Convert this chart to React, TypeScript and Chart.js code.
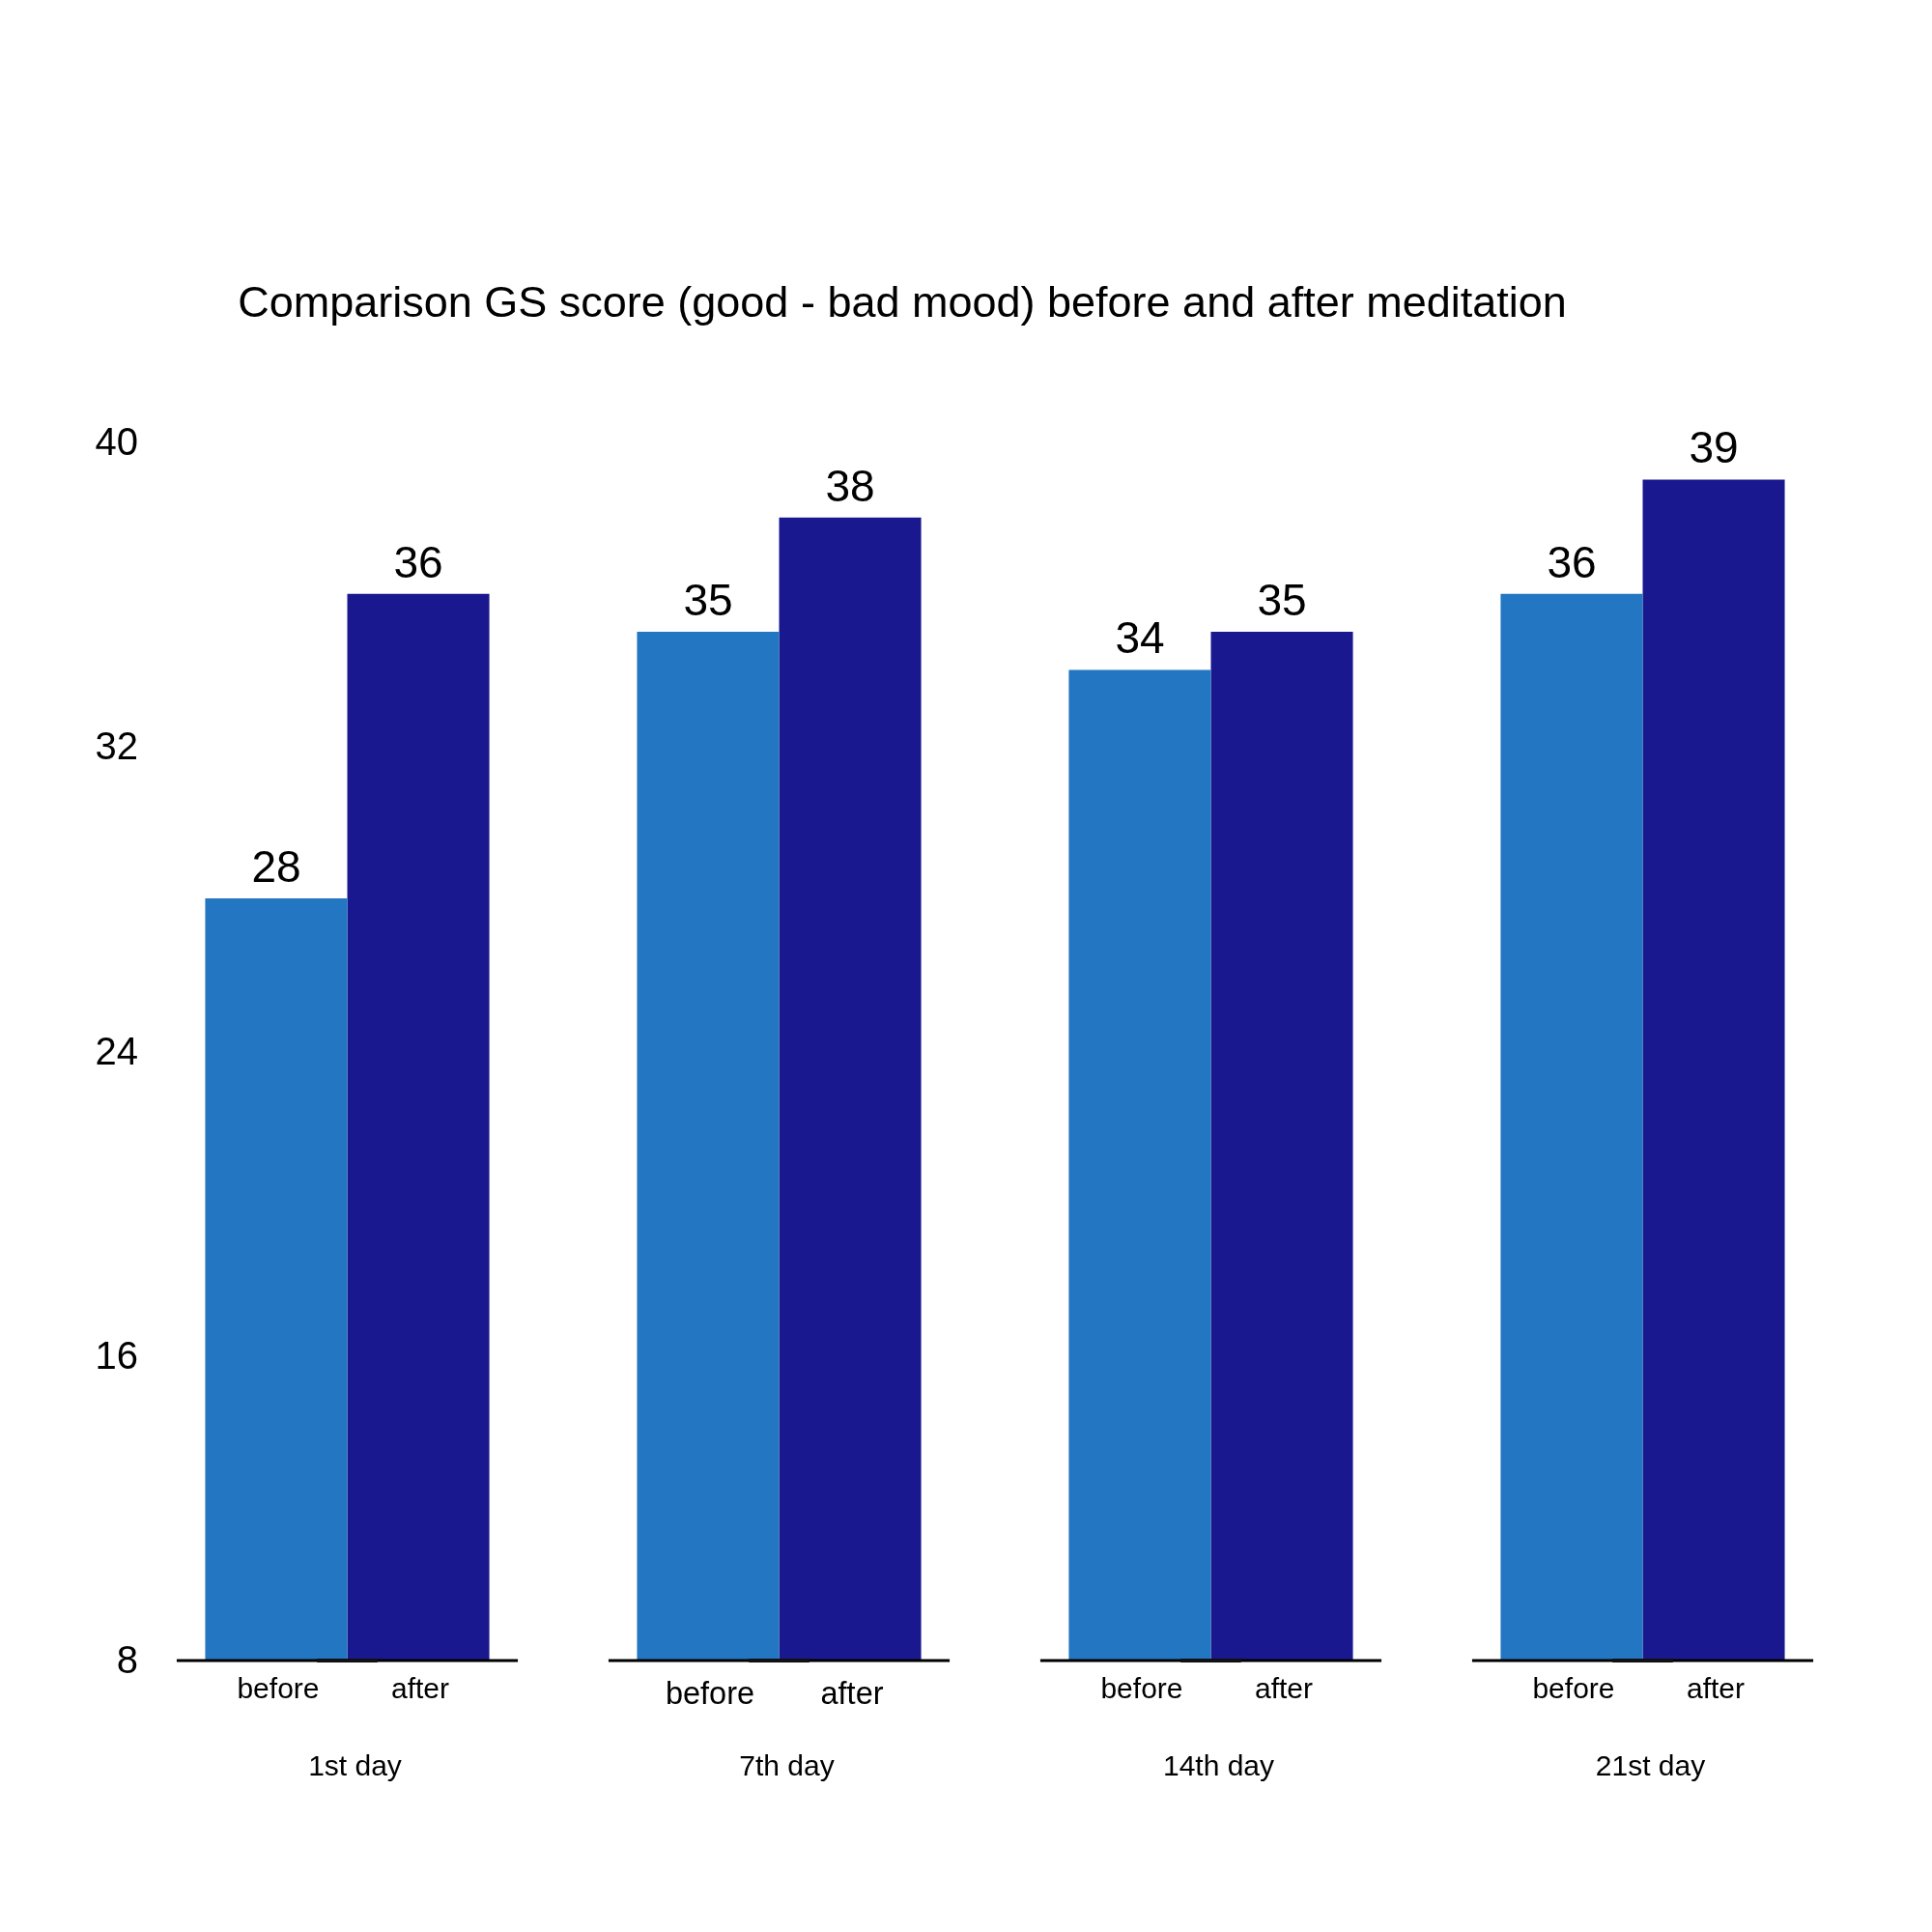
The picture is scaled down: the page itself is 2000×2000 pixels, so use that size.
import React, { useEffect, useRef } from "react";
import { Chart, registerables } from "chart.js";

Chart.register(...registerables);

const titleText = "Comparison GS score (good - bad mood) before and after meditation";
const days = ["1st day", "7th day", "14th day", "21st day"];
const subLabels = ["before", "after"];
const beforeValues = [28, 35, 34, 36];
const afterValues = [36, 38, 35, 39];
const yTicks = [8, 16, 24, 32, 40];
const colors = ["#2376C1", "#1A188F"];

const FONT = "'Liberation Sans', Arial, Helvetica, sans-serif";

const customPlugin = {
  id: "custom",
  afterDatasetsDraw(chart: any) {
    const ctx = chart.ctx;
    const xScale = chart.scales.x;
    const yScale = chart.scales.y;
    const baseY = yScale.getPixelForValue(yScale.min);
    const catW = xScale.width / days.length;
    ctx.save();
    // y tick labels (drawn here so they may overhang the chart area slightly)
    ctx.fillStyle = "#000";
    ctx.font = `40px ${FONT}`;
    ctx.textAlign = "right";
    ctx.textBaseline = "middle";
    yScale.ticks.forEach((t: any) => {
      ctx.fillText(String(t.value), yScale.right + 7, yScale.getPixelForValue(t.value) + 3);
    });
    // axis segments
    days.forEach((_, i) => {
      const cx = xScale.getPixelForValue(i);
      ctx.strokeStyle = "#000";
      ctx.lineWidth = 3;
      ctx.beginPath();
      ctx.moveTo(cx - catW * 0.395, baseY + 1);
      ctx.lineTo(cx + catW * 0.395, baseY + 1);
      ctx.stroke();
      ctx.lineWidth = 4;
      ctx.strokeStyle = "#111";
      ctx.beginPath();
      ctx.moveTo(cx - catW * 0.07, baseY + 1);
      ctx.lineTo(cx + catW * 0.07, baseY + 1);
      ctx.stroke();
    });
    // value labels and sub labels
    chart.data.datasets.forEach((ds: any, di: number) => {
      const meta = chart.getDatasetMeta(di);
      meta.data.forEach((bar: any, i: number) => {
        ctx.fillStyle = "#000";
        ctx.textAlign = "center";
        ctx.textBaseline = "alphabetic";
        ctx.font = `46px ${FONT}`;
        ctx.fillText(String(ds.data[i]), bar.x, bar.y - 17);
        ctx.font = `${i === 1 ? 32.5 : 30}px ${FONT}`;
        ctx.textBaseline = "middle";
        ctx.fillText(subLabels[di], bar.x + 2, baseY + (i === 1 ? 37 : 32));
      });
    });
    // title
    ctx.font = `45px ${FONT}`;
    ctx.textAlign = "center";
    ctx.textBaseline = "middle";
    ctx.fillStyle = "#000";
    ctx.fillText(titleText, 934, 316);
    ctx.restore();
  },
};

export default function App() {
  const ref = useRef<HTMLCanvasElement | null>(null);
  useEffect(() => {
    document.body.style.margin = "0";
    const chart = new Chart(ref.current as HTMLCanvasElement, {
      type: "bar",
      data: {
        labels: days,
        datasets: [
          { label: subLabels[0], data: beforeValues, backgroundColor: colors[0], borderWidth: 0 },
          { label: subLabels[1], data: afterValues, backgroundColor: colors[1], borderWidth: 0 },
        ],
      },
      options: {
        responsive: false,
        animation: false,
        devicePixelRatio: 1,
        layout: { padding: { top: 457, right: 76, left: 0, bottom: 0 } },
        datasets: { bar: { categoryPercentage: 0.658, barPercentage: 1.0 } },
        plugins: {
          legend: { display: false },
          title: { display: false },
          tooltip: { enabled: false },
        },
        scales: {
          x: {
            grid: { display: false },
            border: { display: false },
            ticks: { color: "#000", font: { family: FONT, size: 30 }, padding: 86, labelOffset: 8 },
            afterFit: (scale: any) => {
              scale.height = 282;
            },
          },
          y: {
            min: yTicks[0],
            max: yTicks[yTicks.length - 1],
            afterBuildTicks: (scale: any) => {
              scale.ticks = yTicks.map((v) => ({ value: v }));
            },
            grid: { display: false },
            border: { display: false },
            ticks: { display: false },
            afterFit: (scale: any) => {
              scale.width = 136;
            },
          },
        },
      },
      plugins: [customPlugin],
    });
    return () => chart.destroy();
  }, []);
  return (
    <div style={{ width: 2000, height: 2000 }}>
      <canvas ref={ref} width={2000} height={2000} />
    </div>
  );
}
